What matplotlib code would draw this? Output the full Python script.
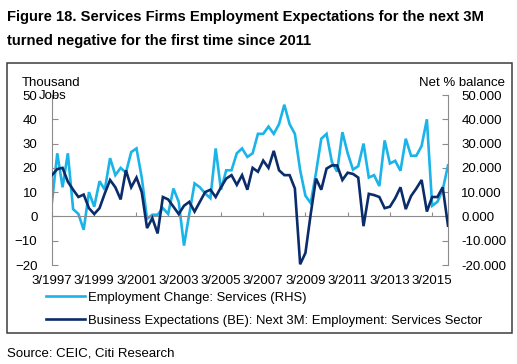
import numpy as np
import pandas as pd
import matplotlib
matplotlib.use("Agg")
import matplotlib.pyplot as plt
from matplotlib.patches import Rectangle

plt.rcParams['font.family'] = ['Liberation Sans', 'DejaVu Sans']

# ---------- data (quarterly, 3/1997 .. 12/2015) ----------
quarters = pd.period_range("1997Q1", "2015Q4", freq="Q")

employment_change = [
    6, 26, 12, 26, 3, 1, -5.5, 10, 4, 14.5,
    11, 24, 17, 20, 18, 26.5, 28, 16, -1, 0.7,
    0.7, 3.4, 1, 11.5, 6, -12, 1, 13.6, 12, 9.5,
    7.5, 28, 11, 19, 19, 26, 28, 24.5, 26, 34,
    34, 37, 34, 38, 46, 38, 34, 19, 8.5, 5.5,
    18, 32, 34, 22.5, 18.4, 34.7, 26, 19.3, 20.7, 30,
    16, 17, 12.5, 31.3, 21.8, 22.9, 18.8, 32, 25, 25,
    29, 40, 4.4, 6, 11, 21,
]

business_expect = [
    17, 19.5, 20, 14.3, 11, 8, 9, 3.4, 1, 3.4,
    9.5, 15, 12, 7, 19, 12, 16, 10, -4.8, -0.7,
    -7, 8, 7, 4, 1, 4.4, 6, 2, 6, 10,
    11, 8, 12, 15.6, 17, 13, 17, 11, 20, 18.4,
    23, 20, 27, 19, 17, 17, 11.5, -19.7, -15, 1,
    15.6, 11, 19.7, 21, 21, 15, 18, 17.5, 16, -4,
    9.3, 8.8, 8, 3.4, 4, 7.5, 12, 3, 8.4, 11.5,
    15, 2, 8, 8, 12, -3.8,
]

tick_labels = ["3/1997", "3/1999", "3/2001", "3/2003", "3/2005",
               "3/2007", "3/2009", "3/2011", "3/2013", "3/2015"]

x = np.arange(len(quarters))
tick_pos = x[::8][:len(tick_labels)]

LIGHT = "#1BB4E8"
DARK = "#0B2C6B"
GREY = "#8c8c8c"
W, H = 517, 364

# ---------- plot ----------
fig = plt.figure(figsize=(W / 100, H / 100), dpi=100)
ax = fig.add_axes([52 / W, 1 - 265 / H, 396 / W, 170 / H])
ax2 = ax.twinx()

ax.plot(x, business_expect, color=DARK, lw=1.9, solid_joinstyle="miter",
        label="Business Expectations (BE): Next 3M: Employment: Services Sector", zorder=3)
ax2.plot(x, employment_change, color=LIGHT, lw=1.9, solid_joinstyle="miter",
         label="Employment Change: Services (RHS)")
ax.set_zorder(ax2.get_zorder() + 1)
ax.patch.set_visible(False)

for a in (ax, ax2):
    a.set_xlim(0, len(x) - 1)
    a.set_ylim(-20, 50)
    a.set_yticks(range(-20, 51, 10))
    for s in a.spines.values():
        s.set_visible(False)

ax.spines['left'].set_visible(True)
ax.spines['left'].set_color(GREY)
ax.spines['bottom'].set_visible(True)
ax.spines['bottom'].set_position(('data', 0))
ax.spines['bottom'].set_color(GREY)
ax2.spines['right'].set_visible(True)
ax2.spines['right'].set_color(GREY)

ax.tick_params(axis='y', direction='in', length=4.5, color=GREY, pad=10.5,
               labelsize=9.5)
ax2.tick_params(axis='y', direction='in', length=4.5, color=GREY, pad=9.5,
                labelsize=9.5)
ax2.yaxis.set_major_formatter(matplotlib.ticker.FormatStrFormatter('%.3f'))

ax.set_xticks(tick_pos)
ax.tick_params(axis='x', direction='in', length=3, color=GREY, labelbottom=False)

sec = ax.secondary_xaxis('bottom')
sec.spines['bottom'].set_visible(False)
sec.set_xticks(tick_pos, tick_labels)
sec.tick_params(length=0, pad=7, labelsize=9.5)

# axis titles
fig.text(51 / W, 1 - 86 / H, "Thousand", ha='center', va='baseline', fontsize=9.5)
fig.text(39 / W, 1 - 99.5 / H, "Jobs", ha='left', va='baseline', fontsize=9.5)
fig.text(462 / W, 1 - 86 / H, "Net % balance", ha='center', va='baseline',
         fontsize=9.5)

# legend
h2, l2 = ax2.get_legend_handles_labels()
h1, l1 = ax.get_legend_handles_labels()
fig.legend(h2 + h1, l2 + l1, loc='upper left', bbox_to_anchor=(46 / W, 1 - 291.5 / H),
           frameon=False, fontsize=9.4, handlelength=3.0, handletextpad=0.25,
           labelspacing=0.85, borderpad=0, borderaxespad=0)

# title, frame, source
fig.text(7 / W, 1 - 21 / H,
         "Figure 18. Services Firms Employment Expectations for the next 3M",
         fontsize=10.6, fontweight='bold', va='baseline')
fig.text(7 / W, 1 - 45.5 / H, "turned negative for the first time since 2011",
         fontsize=10.6, fontweight='bold', va='baseline')
fig.add_artist(Rectangle((7 / W, 1 - 333 / H), 505 / W, 270 / H,
                         transform=fig.transFigure, fill=False,
                         ec="#3c3c3c", lw=1.1))
fig.text(7 / W, 1 - 356 / H, "Source: CEIC, Citi Research", fontsize=9.5,
         va='baseline')

fig.savefig("out.png", dpi=100)
